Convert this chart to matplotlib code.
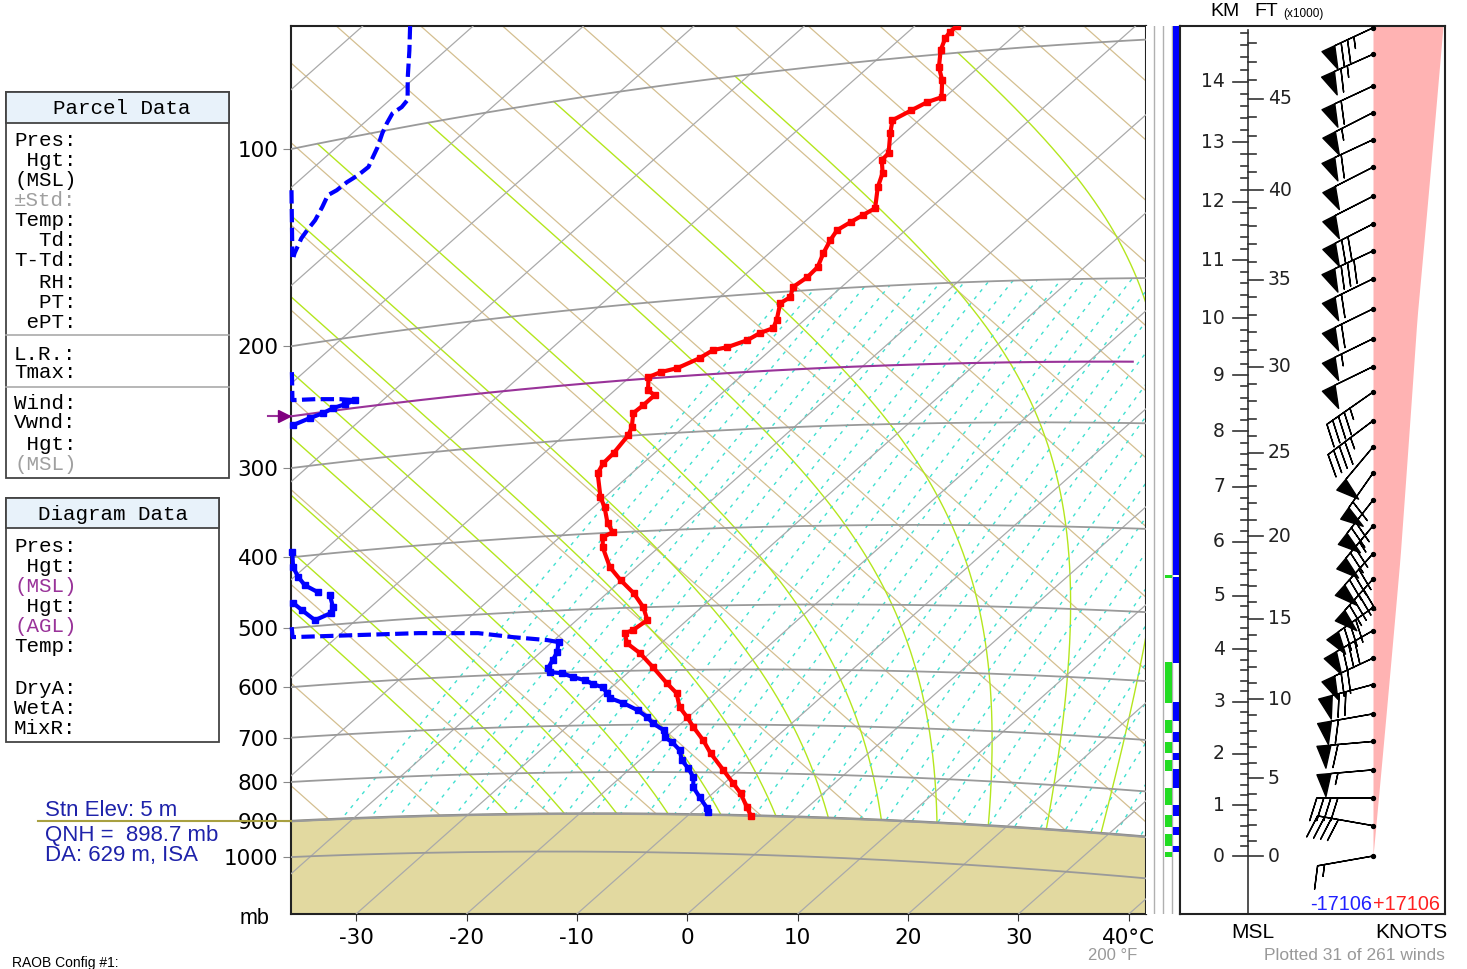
import numpy as np
import matplotlib
matplotlib.use("Agg")
import matplotlib.pyplot as plt
from matplotlib.patches import Rectangle
from matplotlib.lines import Line2D

W, H = 1467, 969
KAPPA = 0.2857
S = 254.6          # tephigram scale for ln(theta)

# ---------------- sounding (temperature, deg C / pressure, mb)
temp_T = [-66.2, -66.2, -66.0, -65.2, -63.6, -62.0, -60.3, -61.1, -61.7, -62.4, -61.3, -59.4, -59.3,
          -57.9, -56.9, -55.0, -55.4, -55.8, -56.2, -55.8, -55.1, -54.2, -54.1, -54.4, -53.6, -53.9,
          -52.5, -52.0, -52.7, -53.1, -54.2, -55.2, -55.6, -56.6, -57.7, -58.3, -57.0, -55.9, -55.9,
          -56.0, -54.7, -54.2, -53.7, -53.6, -53.1, -50.4, -49.0, -47.1, -45.7, -46.1, -45.1, -42.4,
          -40.1, -37.6, -35.3, -33.6, -33.9, -34.3, -33.1, -30.9, -28.3, -25.4, -23.5, -21.8, -20.1,
          -18.5, -16.3, -14.3, -11.4, -9.2, -7.5, -5.5, -4.2]
temp_p = [92.0, 93.6, 95.2, 98.7, 104.1, 108.4, 114.3, 115.6, 118.1, 121.2, 126.0, 134.0, 136.7,
          142.3, 148.4, 158.1, 161.1, 164.1, 167.7, 172.6, 179.3, 186.8, 192.2, 197.6, 203.5, 206.9,
          217.6, 222.8, 225.6, 229.9, 233.9, 235.3, 240.5, 246.7, 248.8, 251.9, 262.2, 266.6, 274.1,
          280.3, 292.4, 299.4, 315.2, 324.3, 333.9, 359.1, 370.4, 388.7, 399.6, 404.9, 417.1, 443.0,
          460.9, 479.4, 499.8, 519.2, 533.9, 538.2, 554.1, 570.8, 594.6, 622.8, 640.9, 666.8, 685.9,
          705.5, 731.6, 758.5, 794.9, 823.6, 846.3, 879.1, 900.8]

# dewpoint, split in pieces; dashed pieces are estimated values
dew_T = [-115.7, -113.3, -110.7, -108.4, -108.2, -108.4, -107.9, -107.3, -106.3, -105.7, -105.1,
         -105.2, -105.5, -105.6, -105.9, -105.2, -104.5, -104.2, -103.9, -103.0, -102.7,
         -109.7, -102.8,
         -91.1, -88.2, -86.2, -84.0, -82.5,
         -82.5, -83.0, -83.7, -84.1, -84.8, -85.6,
         -72.7, -71.1, -69.6, -68.2, -66.3,
         -64.9, -63.4, -63.0, -63.7, -65.9, -67.4,
         -65.1, -64.0, -53.0, -47.6, -44.0, -40.6, -39.4,
         -39.4, -38.5, -38.1, -37.7, -37.1, -35.9, -34.5, -33.1, -32.0, -30.8, -29.8, -29.0, -27.3,
         -25.3, -23.7, -22.6, -20.9, -20.1, -18.9, -17.4, -16.2, -14.8, -13.4, -12.4, -10.8, -9.0,
         -8.5]
dew_p = [69.8, 76.2, 83.9, 91.0, 93.0, 94.5, 97.5, 100.7, 105.5, 109.0, 112.5, 115.0, 117.1, 119.7,
         121.1, 125.8, 131.2, 135.2, 138.6, 145.4, 147.3,
         116.1, 147.2,
         218.4, 239.9, 241.7, 244.3, 246.7,
         246.7, 248.9, 250.9, 254.0, 256.7, 260.8,
         393.6, 412.9, 426.9, 438.7, 450.2,
         456.0, 473.7, 482.2, 490.9, 474.1, 462.6,
         498.5, 514.3, 523.1, 528.7, 537.9, 545.0, 548.9,
         548.9, 565.2, 578.2, 591.7, 598.7, 601.2, 608.8, 614.7, 622.2, 628.0, 639.1, 648.4, 658.1,
         671.8, 685.5, 697.3, 711.3, 725.5, 735.8, 752.5, 773.8, 791.2, 811.2, 834.0, 857.2, 883.4,
         893.1]
dew_piece = [0] * 21 + [1] * 2 + [2] * 5 + [3] * 6 + [4] * 5 + [5] * 6 + [6] * 7 + [7] * 27
piece_dashed = [True, True, True, False, False, False, True, False]

sfc_p = 898.7
trop_p = 253
iso_p = [100, 200, 300, 400, 500, 600, 700, 800, 900, 1000]
temp_ticks = [-30, -20, -10, 0, 10, 20, 30, 40]
theta_c = np.arange(-45, 186, 10)                      # dry adiabats, deg C
theta_w = [-19.6, -14.7, -10.2, -5.8, -1.3, 3.4, 7.9, 12.5, 17.4, 22.0, 27.3, 32.4]  # wet bulb pot. temp
mix_td1000 = np.arange(-40, 41, 2.5)                   # mixing-ratio lines by 1000 mb dewpoint

# ---------------- winds (height km MSL, direction deg, speed kt)
wind_km = [14.88, 14.45, 13.93, 13.49, 13.04, 12.58, 12.09, 11.62, 11.16, 10.68, 10.16, 9.64, 9.15,
           8.70, 8.19, 7.72, 7.25, 6.76, 6.29, 5.78, 5.31, 4.78, 4.35, 3.83, 3.33, 2.77, 2.24, 1.69,
           1.14, 0.60, 0.0]
wind_dir = [245, 246, 245, 243, 245, 243, 243, 243, 245, 244, 244, 244, 244, 235, 233, 220, 215,
            218, 220, 222, 222, 235, 240, 245, 255, 260, 265, 265, 270, 280, 260]
wind_spd = [75, 65, 60, 55, 60, 50, 50, 70, 80, 60, 60, 55, 50, 45, 45, 50, 60, 70, 75, 80, 90,
            80, 80, 70, 70, 60, 60, 55, 40, 40, 15]
wedge_km = [0, 5.7, 10.0, 14.91]
wedge_w = [0, 27, 44, 70]
cloud_blue = [(5.38, 14.91), (3.73, 5.34), (2.63, 3.0), (2.22, 2.43), (1.88, 2.02), (1.33, 1.70),
              (0.79, 1.0), (0.42, 0.58), (0.08, 0.19)]
cloud_green = [(5.33, 5.39), (2.98, 3.75), (2.41, 2.65), (2.02, 2.22), (1.66, 1.88), (1.0, 1.34),
               (0.58, 0.81), (0.19, 0.44), (-0.02, 0.08)]


def teph(T, p):
    T = np.asarray(T, float)
    p = np.asarray(p, float)
    sl = S * (np.log((T + 273.15) / 273.15) + KAPPA * np.log(1000.0 / p))
    return T + sl, sl - T


def esat(T):
    return 6.112 * np.exp(17.67 * T / (T + 243.5))


def moist_lapse(T, p):
    Tk = T + 273.15
    rs = 0.622 * esat(T) / (p - esat(T))
    return (287.04 * Tk + 2.501e6 * rs) / (1005.7 + 2.501e6 ** 2 * rs * 0.622 / (287.04 * Tk ** 2)) / p


def dewpoint_from_w(w, p):
    e = w * p / (622.0 + w)
    g = np.log(e / 6.112)
    return 243.5 * g / (17.67 - g)


fig = plt.figure(figsize=(W / 100, H / 100), dpi=100)


def rect(x0, y0, x1, y1):
    return [x0 / W, 1 - y1 / H, (x1 - x0) / W, (y1 - y0) / H]


def fig_rect(x0, y0, x1, y1, **kw):
    fig.add_artist(Rectangle((x0 / W, 1 - y1 / H), (x1 - x0) / W, (y1 - y0) / H,
                             transform=fig.transFigure, **kw))


def fig_line(x0, y0, x1, y1, **kw):
    fig.add_artist(Line2D([x0 / W, x1 / W], [1 - y0 / H, 1 - y1 / H], transform=fig.transFigure, **kw))


def ftext(x, y, s, **kw):
    fig.text(x / W, 1 - y / H, s, **kw)


# ---------------- tephigram
ax = fig.add_axes(rect(291, 26, 1146, 914))
XMIN, XMAX, YMIN, YMAX = -83.9, 71.0, -12.1, 169.1
ax.set_xlim(XMIN, XMAX)
ax.set_ylim(YMIN, YMAX)

Tline = np.linspace(-170, 70, 500)
for th in theta_c:
    x, y = teph(Tline, 1000 * ((Tline + 273.15) / (th + 273.15)) ** (1 / KAPPA))
    ax.plot(x, y, color='#d4bf90', lw=0.9, zorder=1)

# saturated adiabats (RK2 from 1000 mb up to 100 mb)
pm = np.arange(1000.0, 99.0, -2.0)
Tm = np.zeros((len(pm), len(theta_w)))
Tm[0] = theta_w
for i in range(1, len(pm)):
    dp = pm[i] - pm[i - 1]
    k1 = moist_lapse(Tm[i - 1], pm[i - 1])
    k2 = moist_lapse(Tm[i - 1] + 0.5 * dp * k1, pm[i - 1] + 0.5 * dp)
    Tm[i] = Tm[i - 1] + dp * k2
for j in range(len(theta_w)):
    x, y = teph(Tm[:, j], pm)
    ax.plot(x, y, color='#b4e61e', lw=1.0, zorder=1.2)

pw = np.linspace(1150, 200, 60)
for td in mix_td1000:
    w = 622.0 * esat(td) / (1000.0 - esat(td))
    x, y = teph(dewpoint_from_w(w, pw), pw)
    ax.plot(x, y, color='#40e0d0', lw=1.0, dashes=(2.5, 4), zorder=1.3)

xs, ys = teph(Tline, np.full_like(Tline, sfc_p))
ax.fill_between(xs, ys, YMIN - 5, color='#e2d9a0', zorder=2)
ax.plot(xs, ys, color='#8c8c8c', lw=1.6, zorder=2.1)

for T in np.arange(-150, 61, 10):
    pp = np.geomspace(20, 1500, 40)
    x, y = teph(np.full_like(pp, T), pp)
    ax.plot(x, y, color='#aaaaaa', lw=0.9, zorder=3)

left_y = []
for p in iso_p:
    x, y = teph(Tline, np.full_like(Tline, p))
    ax.plot(x, y, color='#9a9a9a', lw=1.3, zorder=3)
    left_y.append(np.interp(XMIN, x, y))

# tropopause
Tt = np.linspace(-150, -16, 200)
x, y = teph(Tt, np.full_like(Tt, trop_p))
ax.plot(x, y, color='#993399', lw=1.5, zorder=4)
yt = np.interp(XMIN, x, y)
ax.plot([XMIN - 4.2, XMIN], [yt, yt], color='#993399', lw=1.5, clip_on=False, zorder=4)
ax.plot([XMIN - 1.2], [yt], marker='>', ms=8, color='#800080', clip_on=False, zorder=4)

# surface marker line
ysl = np.interp(XMIN, xs, ys)
ax.plot([XMIN - 45.8, XMIN], [ysl, ysl], color='#a8a040', lw=1.5, clip_on=False, zorder=4)

# sounding
x, y = teph(temp_T, temp_p)
ax.plot(x, y, color='red', lw=3.0, marker='s', ms=3.8, zorder=6)
dT = np.array(dew_T)
dP = np.array(dew_p)
dK = np.array(dew_piece)
for k, dashed in enumerate(piece_dashed):
    x, y = teph(dT[dK == k], dP[dK == k])
    if dashed:
        ax.plot(x, y, color='blue', lw=3.0, dashes=(3.2, 1.3), zorder=6, clip_on=False)
    else:
        ax.plot(x, y, color='blue', lw=3.0, marker='s', ms=3.8, zorder=6, clip_on=False)

ax.set_yticks(left_y, [str(p) for p in iso_p])
ax.set_xticks([2 * t + YMIN for t in temp_ticks],
              [str(t) for t in temp_ticks[:-1]] + ['40°C'])
ax.tick_params(axis='y', length=6, color='#888888', labelsize=15.5, pad=3)
ax.tick_params(axis='x', length=5, color='#333333', labelsize=15.5, pad=5)
for sp in ax.spines.values():
    sp.set_linewidth(1.5)
    sp.set_color('#222222')


# ---------------- height column and wind panel
def hfwd(z):
    z = np.clip(np.asarray(z, float), -50, 80)
    return np.log(288.0 / (288.0 - 3.5 * z))


def hinv(f):
    return (288.0 - 288.0 * np.exp(-np.asarray(f, float))) / 3.5


ZMIN, ZMAX = -1.157, 14.91

axc = fig.add_axes(rect(1146, 26, 1180, 914))
axc.set_yscale('function', functions=(hfwd, hinv))
axc.set_ylim(ZMIN, ZMAX)
axc.set_xlim(0, 34)
for xv in (8, 17, 26):
    axc.axvline(xv, color='#b0b0b0', lw=1)
for b, t in cloud_blue:
    axc.bar(30.5, t - b, bottom=b, width=7, color='#0000ff', zorder=3)
for b, t in cloud_green:
    axc.bar(22.5, t - b, bottom=b, width=7, color='#22dd22', zorder=3)
axc.set_xticks([])
axc.set_yticks([])
axc.minorticks_off()
for k in ('top', 'bottom', 'left'):
    axc.spines[k].set_visible(False)
axc.spines['right'].set_color('#222222')
axc.spines['right'].set_linewidth(1.5)

axr = fig.add_axes(rect(1180, 26, 1445, 914))
axr.set_yscale('function', functions=(hfwd, hinv))
axr.set_ylim(ZMIN, ZMAX)
axr.set_xlim(0, 265)
axr.set_xticks([])
axr.set_yticks([])
axr.minorticks_off()
for sp in axr.spines.values():
    sp.set_linewidth(1.5)
    sp.set_color('#222222')

AX0 = 67.5
axr.plot([AX0, AX0], [ZMIN, 14.85], color='#333333', lw=1.2)
for km in np.arange(0, 14.81, 0.2):
    major = abs(km - round(km)) < 1e-6
    axr.plot([AX0 - (14.5 if major else 7), AX0], [km, km], color='#333333', lw=1.2)
    if major:
        axr.text(45, km, str(int(round(km))), ha='right', va='center', fontsize=13.5, color='#222222')
for kft in range(0, 49):
    km = kft * 0.3048
    major = kft % 5 == 0
    axr.plot([AX0, AX0 + (15 if major else 8)], [km, km], color='#333333', lw=1.2)
    if major:
        axr.text(88, km, str(kft), ha='left', va='center', fontsize=13.5, color='#222222')

BASE = 193
zz = np.linspace(0, ZMAX, 60)
axr.fill_betweenx(zz, BASE, BASE + np.interp(zz, wedge_km, wedge_w), color='#ffb3b3', lw=0, zorder=1)
wd = np.radians(wind_dir)
u = -np.array(wind_spd) * np.sin(wd)
v = -np.array(wind_spd) * np.cos(wd)
axr.barbs(np.full(len(wind_km), BASE), wind_km, u, v, length=9, linewidth=1.0,
          flip_barb=True, color='k', zorder=4)
axr.scatter(np.full(len(wind_km), BASE), wind_km, s=8, color='k', zorder=5)

# ---------------- texts
sans = 'Liberation Sans'
mono = 'Liberation Mono'
ftext(1225, 12, 'KM', ha='center', va='center', fontsize=14, family=sans)
ftext(1266, 12, 'FT', ha='center', va='center', fontsize=14, family=sans)
ftext(1303, 14, '(x1000)', ha='center', va='center', fontsize=8.5, family=sans)
ftext(1253, 933, 'MSL', ha='center', va='center', fontsize=15, family=sans)
ftext(1411, 933, 'KNOTS', ha='center', va='center', fontsize=15, family=sans)
ftext(1445, 956, 'Plotted 31 of 261 winds', ha='right', va='center', fontsize=12.5,
      family=sans, color='#999999')
ftext(1372, 904, '-17106', ha='right', va='center', fontsize=14.3, family=sans, color='#2020ff')
ftext(1373, 904, '+17106', ha='left', va='center', fontsize=14.3, family=sans, color='#ff2020')
ftext(1113, 956, '200 °F', ha='center', va='center', fontsize=12, family=sans, color='#999999')
ftext(255, 918, 'mb', ha='center', va='center', fontsize=15.5, family=sans)
ftext(12, 963, 'RAOB Config #1:', ha='left', va='center', fontsize=10, family=sans)

navy = '#1e22aa'
ftext(45, 810, 'Stn Elev: 5 m', ha='left', va='center', fontsize=16, family=sans, color=navy)
ftext(45, 836, 'QNH =  898.7 mb', ha='left', va='center', fontsize=16, family=sans, color=navy,
      bbox=dict(facecolor='white', edgecolor='none', pad=0))
ftext(45, 856, 'DA: 629 m, ISA', ha='left', va='center', fontsize=16, family=sans, color=navy)

# parcel box
fig_rect(6, 92, 229, 478, facecolor='white', edgecolor='#444444', lw=1.3)
fig_rect(6, 92, 229, 123, facecolor='#e8f2fa', edgecolor='#444444', lw=1.3)
fig_line(6, 335, 229, 335, color='#aaaaaa', lw=1.2)
fig_line(6, 387, 229, 387, color='#aaaaaa', lw=1.2)
ftext(122, 109, 'Parcel Data', ha='center', va='center', fontsize=15, family=mono)
rows = [('Pres:', 140, 'k'), (' Hgt:', 160, 'k'), ('(MSL)', 180, 'k'), ('±Std:', 200, '#a0a0a0'),
        ('Temp:', 221, 'k'), ('  Td:', 241, 'k'), ('T-Td:', 261, 'k'), ('  RH:', 282, 'k'),
        ('  PT:', 302, 'k'), (' ePT:', 322, 'k'), ('L.R.:', 354, 'k'), ('Tmax:', 373, 'k'),
        ('Wind:', 403, 'k'), ('Vwnd:', 423, 'k'), (' Hgt:', 444, 'k'), ('(MSL)', 464, '#a0a0a0')]
for s, yy, c in rows:
    ftext(14, yy, s, ha='left', va='center', fontsize=15, family=mono, color=c)

# diagram box
fig_rect(6, 498, 219, 742, facecolor='white', edgecolor='#444444', lw=1.3)
fig_rect(6, 498, 219, 528, facecolor='#e8f2fa', edgecolor='#444444', lw=1.3)
ftext(113, 514, 'Diagram Data', ha='center', va='center', fontsize=15, family=mono)
rows = [('Pres:', 546, 'k'), (' Hgt:', 566, 'k'), ('(MSL)', 586, '#993399'), (' Hgt:', 607, 'k'),
        ('(AGL)', 627, '#993399'), ('Temp:', 647, 'k'), ('DryA:', 688, 'k'), ('WetA:', 708, 'k'),
        ('MixR:', 729, 'k')]
for s, yy, c in rows:
    ftext(14, yy, s, ha='left', va='center', fontsize=15, family=mono, color=c)

fig.savefig('out.png', dpi=100)
